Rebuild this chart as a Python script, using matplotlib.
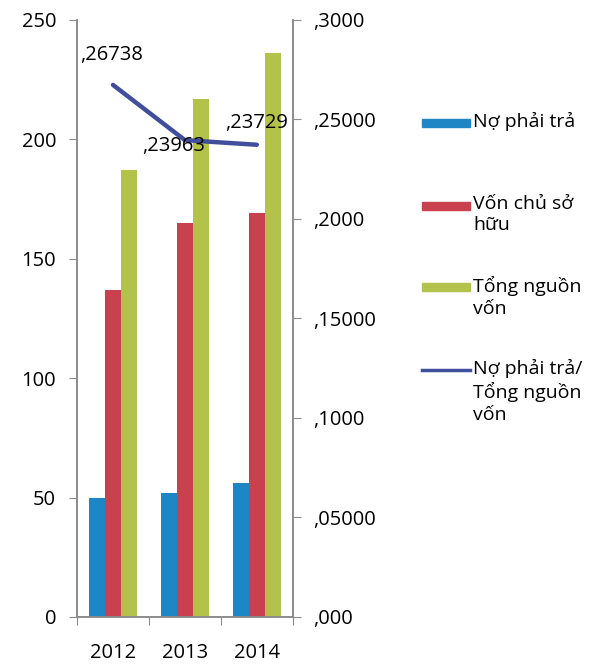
import numpy as np
import matplotlib
matplotlib.use('Agg')
import matplotlib.pyplot as plt
from matplotlib.patches import Rectangle
from matplotlib.lines import Line2D

plt.rcParams['font.family'] = ['Open Sans', 'DejaVu Sans']

years = ['2012', '2013', '2014']
no_phai_tra = [50, 52, 56]
von_chu_so_huu = [137, 165, 169]
tong_nguon_von = [187, 217, 236]
ty_le = [0.26738, 0.23963, 0.23729]
ratio_labels = [',26738', ',23963', ',23729']

left_ticks = [0, 50, 100, 150, 200, 250]
right_ticks = [0, 0.05, 0.10, 0.15, 0.20, 0.25, 0.30]
right_tick_labels = [',000', ',05000', ',1000', ',15000', ',2000', ',25000', ',3000']

legend_labels = ['Nợ phải trả', 'Vốn chủ sở\nhữu', 'Tổng nguồn\nvốn',
                 'Nợ phải trả/\nTổng nguồn\nvốn']

c_blue = '#1f86c6'
c_red = '#c9404f'
c_green = '#b3c24a'
c_line = '#414e9c'
c_axis = '#8c8c8c'

W, H = 613, 666
fig = plt.figure(figsize=(W / 100, H / 100), dpi=100)
ax = fig.add_axes([0.1256, 0.0736, 0.352, 0.8964])
ax2 = ax.twinx()

x = np.arange(len(years))
w = 0.225
ax.bar(x - w, no_phai_tra, w, color=c_blue)
ax.bar(x, von_chu_so_huu, w, color=c_red)
ax.bar(x + w, tong_nguon_von, w, color=c_green)

ax.set_xlim(-0.5, 2.5)
ax.set_ylim(0, 250)
ax.set_yticks(left_ticks)
ax.set_xticks([-0.5, 0.5, 1.5, 2.5])
ax.set_xticklabels([])
ax.set_xticks(x, minor=True)
ax.set_xticklabels(years, minor=True)
ax.tick_params(axis='x', which='minor', length=0, pad=19, labelsize=14.5)
ax.tick_params(axis='x', which='major', length=6, color=c_axis, direction='out')
ax.tick_params(axis='y', length=6, color=c_axis, pad=9, labelsize=14.5)

ax2.plot(x, ty_le, color=c_line, lw=3.2, solid_capstyle='round')
ax2.set_ylim(0, 0.30)
ax2.set_yticks(right_ticks)
ax2.set_yticklabels(right_tick_labels)
ax2.tick_params(axis='y', length=6, color=c_axis, pad=9, labelsize=14.5)

# data labels for the ratio line
offsets = [(-0.46, 0.015), (-0.6, -0.003), (-0.44, 0.011)]
for xi, v, lab, (dx, dy) in zip(x, ty_le, ratio_labels, offsets):
    ax2.text(xi + dx, v + dy, lab, fontsize=14.5, ha='left', va='center')

for a in (ax, ax2):
    a.spines['top'].set_visible(False)
    for s in ('left', 'right', 'bottom'):
        a.spines[s].set_color(c_axis)
        a.spines[s].set_linewidth(1.2)

# legend, drawn by hand so each key sits on the first line of its text
entry_y = [123, 206, 287, 370]
kinds = ['bar', 'bar', 'bar', 'line']
colors = [c_blue, c_red, c_green, c_line]
for yy, kind, col, lab in zip(entry_y, kinds, colors, legend_labels):
    fy = 1 - yy / H
    if kind == 'bar':
        fig.patches.append(Rectangle((422 / W, fy - 4 / H), 48 / W, 8 / H,
                                     transform=fig.transFigure, color=col))
    else:
        fig.lines.append(Line2D([422 / W, 470 / W], [fy, fy],
                                transform=fig.transFigure, color=col, lw=2.5))
    fig.text(473 / W, fy + 11 / H, lab, fontsize=14, ha='left', va='top',
             linespacing=1.25)

fig.savefig('out.png', dpi=100)
